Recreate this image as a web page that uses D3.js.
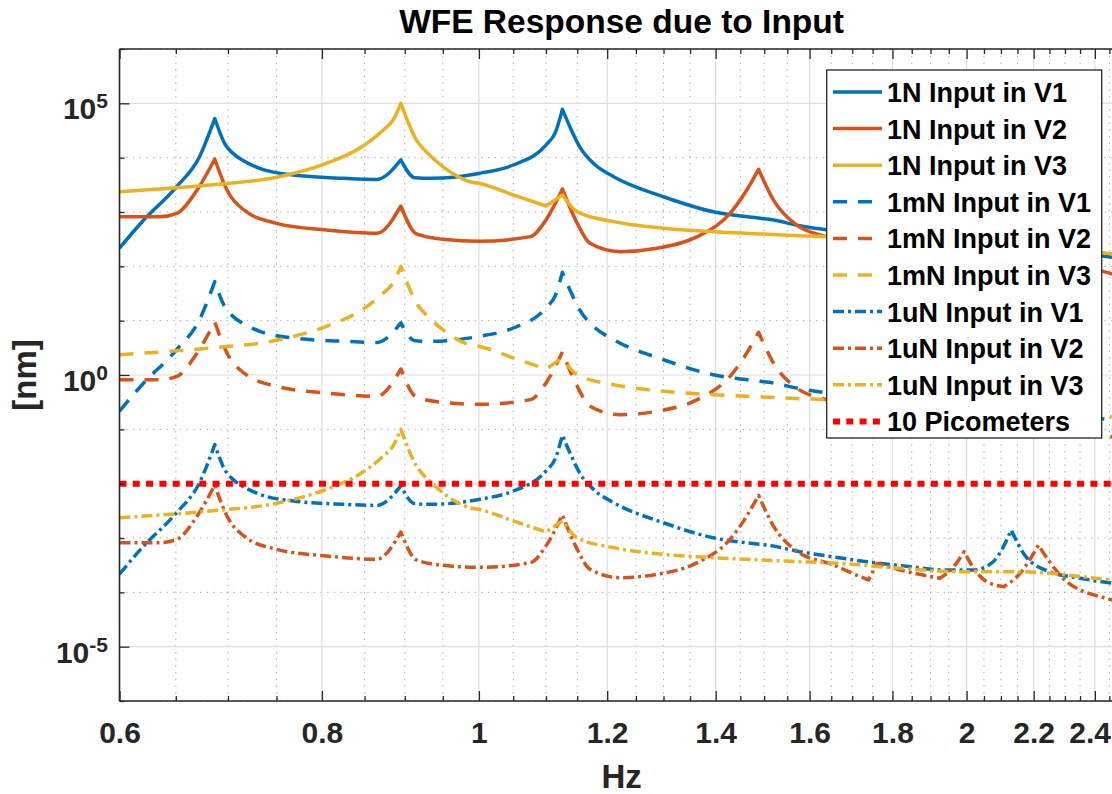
<!DOCTYPE html>
<html>
<head>
<meta charset="utf-8">
<script src="https://cdn.jsdelivr.net/npm/d3@7"></script>
<style>
  html, body { margin: 0; padding: 0; background: #ffffff; }
  svg { display: block; }
  text { font-family: "Liberation Sans", Arial, Helvetica, sans-serif; font-weight: bold; }
</style>
</head>
<body>
<svg id="chart" width="1112" height="794"></svg>
<script>
// Frequency samples (Hz) for each actuator response
const freqV1 = [0.600, 0.620, 0.650, 0.672, 0.687, 0.697, 0.705, 0.716, 0.733, 0.768,
                0.825, 0.865, 0.895, 0.913, 0.935, 1.000, 1.050, 1.100, 1.115, 1.126,
                1.138, 1.154, 1.180, 1.211, 1.300, 1.395, 1.492, 1.510, 1.578, 1.640,
                1.736, 1.850, 1.936, 2.020, 2.077, 2.131, 2.176, 2.250, 2.350, 2.460, 2.500];
const freqV2 = [0.600, 0.635, 0.651, 0.670, 0.687, 0.699, 0.716, 0.750, 0.805, 0.865,
                0.895, 0.915, 0.950, 1.000, 1.076, 1.100, 1.126, 1.150, 1.171, 1.222,
                1.288, 1.364, 1.429, 1.463, 1.488, 1.520, 1.571, 1.656, 1.710, 1.740,
                1.761, 1.820, 1.925, 1.960, 1.993, 2.020, 2.058, 2.109, 2.158, 2.215,
                2.250, 2.306, 2.460, 2.500];
const freqV3 = [0.600, 0.682, 0.750, 0.805, 0.844, 0.873, 0.885, 0.895, 0.915, 0.930,
                0.950, 0.987, 1.000, 1.050, 1.100, 1.126, 1.150, 1.211, 1.300, 1.395,
                1.498, 1.578, 1.640, 1.820, 1.970, 2.150, 2.460, 2.500];

// WFE response (nm) for a 1 N input
const wfe1N_V1 = [217, 676, 2820, 10200, 52500, 17800, 12000, 8710, 6310, 4790,
                  4170, 3980, 9120, 4270, 4170, 5130, 7330, 17100, 29500, 77600,
                  37200, 15800, 7330, 4470, 1910, 1010, 766, 733, 560, 467,
                  366, 295, 258, 258, 366, 1400, 453, 240, 182, 147, 138];
const wfe1N_V2 = [818, 818, 946, 2540, 9440, 2540, 1090, 619, 467, 406,
                  1290, 394, 314, 288, 352, 713, 2650, 619, 265, 186,
                  215, 352, 946, 2510, 6110, 1660, 575, 318, 208, 169,
                  342, 258, 181, 277, 560, 277, 157, 127, 224, 743,
                  366, 157, 72.3, 63.1];
const wfe1N_V3 = [2370, 3140, 4350, 7870, 14900, 32300, 49000, 100000, 21100, 12000,
                  6820, 3610, 3370, 2060, 1290, 2060, 1010, 664, 501, 434,
                  394, 366, 352, 277, 240, 240, 169, 162];

// WFE response (nm) for a 1 mN input
const wfe1mN_V1 = [0.217, 0.676, 2.82, 10.2, 52.5, 17.8, 12.0, 8.71, 6.31, 4.79,
                   4.17, 3.98, 9.12, 4.27, 4.17, 5.13, 7.33, 17.1, 29.5, 77.6,
                   37.2, 15.8, 7.33, 4.47, 1.91, 1.01, 0.766, 0.733, 0.560, 0.467,
                   0.366, 0.295, 0.258, 0.258, 0.366, 1.40, 0.453, 0.240, 0.182, 0.147, 0.138];
const wfe1mN_V2 = [0.818, 0.818, 0.946, 2.54, 9.44, 2.54, 1.09, 0.619, 0.467, 0.406,
                   1.29, 0.394, 0.314, 0.288, 0.352, 0.713, 2.65, 0.619, 0.265, 0.186,
                   0.215, 0.352, 0.946, 2.51, 6.11, 1.66, 0.575, 0.318, 0.208, 0.169,
                   0.342, 0.258, 0.181, 0.277, 0.560, 0.277, 0.157, 0.127, 0.224, 0.743,
                   0.366, 0.157, 0.0723, 0.0631];
const wfe1mN_V3 = [2.37, 3.14, 4.35, 7.87, 14.9, 32.3, 49.0, 100, 21.1, 12.0,
                   6.82, 3.61, 3.37, 2.06, 1.29, 2.06, 1.01, 0.664, 0.501, 0.434,
                   0.394, 0.366, 0.352, 0.277, 0.240, 0.240, 0.169, 0.162];

// WFE response (nm) for a 1 uN input
const wfe1uN_V1 = [2.17e-4, 6.76e-4, 2.82e-3, 1.02e-2, 5.25e-2, 1.78e-2, 1.20e-2, 8.71e-3, 6.31e-3, 4.79e-3,
                   4.17e-3, 3.98e-3, 9.12e-3, 4.27e-3, 4.17e-3, 5.13e-3, 7.33e-3, 1.71e-2, 2.95e-2, 7.76e-2,
                   3.72e-2, 1.58e-2, 7.33e-3, 4.47e-3, 1.91e-3, 1.01e-3, 7.66e-4, 7.33e-4, 5.60e-4, 4.67e-4,
                   3.66e-4, 2.95e-4, 2.58e-4, 2.58e-4, 3.66e-4, 1.40e-3, 4.53e-4, 2.40e-4, 1.82e-4, 1.47e-4, 1.38e-4];
const wfe1uN_V2 = [8.18e-4, 8.18e-4, 9.46e-4, 2.54e-3, 9.44e-3, 2.54e-3, 1.09e-3, 6.19e-4, 4.67e-4, 4.06e-4,
                   1.29e-3, 3.94e-4, 3.14e-4, 2.88e-4, 3.52e-4, 7.13e-4, 2.65e-3, 6.19e-4, 2.65e-4, 1.86e-4,
                   2.15e-4, 3.52e-4, 9.46e-4, 2.51e-3, 6.11e-3, 1.66e-3, 5.75e-4, 3.18e-4, 2.08e-4, 1.69e-4,
                   3.42e-4, 2.58e-4, 1.81e-4, 2.77e-4, 5.60e-4, 2.77e-4, 1.57e-4, 1.27e-4, 2.24e-4, 7.43e-4,
                   3.66e-4, 1.57e-4, 7.23e-5, 6.31e-5];
const wfe1uN_V3 = [2.37e-3, 3.14e-3, 4.35e-3, 7.87e-3, 1.49e-2, 3.23e-2, 4.90e-2, 1.00e-1, 2.11e-2, 1.20e-2,
                   6.82e-3, 3.61e-3, 3.37e-3, 2.06e-3, 1.29e-3, 2.06e-3, 1.01e-3, 6.64e-4, 5.01e-4, 4.34e-4,
                   3.94e-4, 3.66e-4, 3.52e-4, 2.77e-4, 2.40e-4, 2.40e-4, 1.69e-4, 1.62e-4];

// 10 picometer requirement line (nm)
const thresholdFreq = [0.6, 2.5];
const thresholdWfe = [0.01, 0.01];

// Axis ticks
const xMajorTicks = [0.6, 0.8, 1.0, 1.2, 1.4, 1.6, 1.8, 2.0, 2.2, 2.4];
const xTickLabels = ["0.6", "0.8", "1", "1.2", "1.4", "1.6", "1.8", "2", "2.2", "2.4"];
const xMinorTicks = [0.65, 0.7, 0.75, 0.85, 0.9, 0.95, 1.05, 1.1, 1.15, 1.25, 1.3, 1.35,
                     1.45, 1.5, 1.55, 1.65, 1.7, 1.75, 1.85, 1.9, 1.95, 2.05, 2.1, 2.15,
                     2.25, 2.3, 2.35, 2.45];
const yMajorTicks = [1e-5, 1e0, 1e5];
const yTickExponents = ["-5", "0", "5"];
const yMinorTicks = [1e-6, 1e-4, 1e-3, 1e-2, 1e-1, 1e1, 1e2, 1e3, 1e4, 1e6];

const seriesNames = ["1N Input in V1", "1N Input in V2", "1N Input in V3",
                     "1mN Input in V1", "1mN Input in V2", "1mN Input in V3",
                     "1uN Input in V1", "1uN Input in V2", "1uN Input in V3",
                     "10 Picometers"];

const BLUE = "#0072BD", ORANGE = "#D95319", YELLOW = "#EDB120", RED = "#FF0000";
const DASHED = "14,11", DASHDOT = "11,4,3,4", DOTTED = "7,6.3";

const series = [
  { name: seriesNames[0], f: freqV1, v: wfe1N_V1, color: BLUE,   dash: null,    width: 3.5 },
  { name: seriesNames[1], f: freqV2, v: wfe1N_V2, color: ORANGE, dash: null,    width: 3.5 },
  { name: seriesNames[2], f: freqV3, v: wfe1N_V3, color: YELLOW, dash: null,    width: 3.5 },
  { name: seriesNames[3], f: freqV1, v: wfe1mN_V1, color: BLUE,   dash: DASHED, width: 3.5 },
  { name: seriesNames[4], f: freqV2, v: wfe1mN_V2, color: ORANGE, dash: DASHED, width: 3.5 },
  { name: seriesNames[5], f: freqV3, v: wfe1mN_V3, color: YELLOW, dash: DASHED, width: 3.5 },
  { name: seriesNames[6], f: freqV1, v: wfe1uN_V1, color: BLUE,   dash: DASHDOT, width: 3.5 },
  { name: seriesNames[7], f: freqV2, v: wfe1uN_V2, color: ORANGE, dash: DASHDOT, width: 3.5 },
  { name: seriesNames[8], f: freqV3, v: wfe1uN_V3, color: YELLOW, dash: DASHDOT, width: 3.5 },
  { name: seriesNames[9], f: thresholdFreq, v: thresholdWfe, color: RED, dash: DOTTED, width: 6 }
];

const svg = d3.select("#chart");
const W = 1112, H = 794;
const plot = { left: 119.5, right: 1123.6, top: 49, bottom: 701 };

svg.append("rect").attr("width", W).attr("height", H).attr("fill", "#ffffff");

const x = d3.scaleLog().domain([0.6, 2.5]).range([plot.left, plot.right]);
const y = d3.scaleLog().domain([1e-6, 1e6]).range([plot.bottom, plot.top]);

const AXIS = "#262626";

// Grid lines
const grid = svg.append("g");
grid.selectAll(".xminor").data(xMinorTicks).join("line")
  .attr("x1", d => x(d)).attr("x2", d => x(d))
  .attr("y1", plot.top).attr("y2", plot.bottom)
  .attr("stroke", "#a9a9a9").attr("stroke-width", 1).attr("stroke-dasharray", "1.4,5.3");
grid.selectAll(".yminor").data(yMinorTicks).join("line")
  .attr("x1", plot.left).attr("x2", plot.right)
  .attr("y1", d => y(d)).attr("y2", d => y(d))
  .attr("stroke", "#a9a9a9").attr("stroke-width", 1).attr("stroke-dasharray", "1.4,5.3");
grid.selectAll(".xmajor").data(xMajorTicks).join("line")
  .attr("x1", d => x(d)).attr("x2", d => x(d))
  .attr("y1", plot.top).attr("y2", plot.bottom)
  .attr("stroke", "#dedede").attr("stroke-width", 1.2);
grid.selectAll(".ymajor").data(yMajorTicks).join("line")
  .attr("x1", plot.left).attr("x2", plot.right)
  .attr("y1", d => y(d)).attr("y2", d => y(d))
  .attr("stroke", "#dedede").attr("stroke-width", 1.2);

// Curves: smooth monotone pieces, kept pointed at sharp resonance peaks and notches
svg.append("clipPath").attr("id", "plotClip").append("rect")
  .attr("x", plot.left).attr("y", plot.top)
  .attr("width", plot.right - plot.left).attr("height", plot.bottom - plot.top);

const smooth = d3.line().x(d => x(d[0])).y(d => y(d[1])).curve(d3.curveMonotoneX);

function responsePath(pts) {
  const breaks = [0];
  for (let i = 1; i < pts.length - 1; i++) {
    const r1 = pts[i][1] / pts[i - 1][1], r2 = pts[i][1] / pts[i + 1][1];
    const peak = r1 > 1.2 && r2 > 1.2;
    const notch = r1 < 1 / 1.2 && r2 < 1 / 1.2;
    if (peak || notch) breaks.push(i);
  }
  breaks.push(pts.length - 1);
  let d = "";
  for (let k = 0; k < breaks.length - 1; k++) {
    const seg = smooth(pts.slice(breaks[k], breaks[k + 1] + 1));
    d += k === 0 ? seg : seg.replace(/^M[^A-Za-z]*/, "");
  }
  return d;
}

const curves = svg.append("g").attr("clip-path", "url(#plotClip)");
series.forEach(s => {
  const pts = s.f.map((f, i) => [f, s.v[i]]);
  curves.append("path")
    .attr("d", responsePath(pts))
    .attr("fill", "none")
    .attr("stroke", s.color)
    .attr("stroke-width", s.width)
    .attr("stroke-linejoin", "round")
    .attr("stroke-dasharray", s.dash);
});

// Axes with inward ticks
const axisStyle = g => {
  g.select(".domain").remove();
  g.selectAll(".tick line").attr("stroke", AXIS).attr("stroke-width", 1.3);
  g.selectAll(".tick text").attr("fill", AXIS).style("font-size", "30px")
    .style("font-family", '"Liberation Sans", Arial, Helvetica, sans-serif').style("font-weight", "bold");
};

const xAxisG = svg.append("g").attr("transform", `translate(0,${plot.bottom})`)
  .call(d3.axisBottom(x).tickValues(xMajorTicks).tickSize(-10).tickPadding(21)
    .tickFormat((d, i) => xTickLabels[i]))
  .call(axisStyle);
// keep the last label inside the canvas
xAxisG.selectAll(".tick text").each(function () {
  const t = d3.select(this);
  const tick = this.parentNode.transform.baseVal.consolidate().matrix.e;
  const w = this.getComputedTextLength();
  if (tick + w / 2 > W - 1) t.attr("x", (W - 1) - w / 2 - tick);
});
svg.append("g").attr("transform", `translate(0,${plot.bottom})`)
  .call(d3.axisBottom(x).tickValues(xMinorTicks).tickSize(-5).tickFormat(""))
  .call(axisStyle);
svg.append("g").attr("transform", `translate(0,${plot.top})`)
  .call(d3.axisTop(x).tickValues(xMajorTicks).tickSize(-10).tickFormat(""))
  .call(axisStyle);
svg.append("g").attr("transform", `translate(0,${plot.top})`)
  .call(d3.axisTop(x).tickValues(xMinorTicks).tickSize(-5).tickFormat(""))
  .call(axisStyle);
svg.append("g").attr("transform", `translate(${plot.left},0)`)
  .call(d3.axisLeft(y).tickValues(yMajorTicks).tickSize(-10).tickFormat(""))
  .call(axisStyle);
svg.append("g").attr("transform", `translate(${plot.left},0)`)
  .call(d3.axisLeft(y).tickValues(yMinorTicks).tickSize(-5).tickFormat(""))
  .call(axisStyle);

// Axis frame (left, bottom, top)
const frame = svg.append("g").attr("stroke", AXIS).attr("stroke-width", 1.6);
frame.append("line").attr("x1", plot.left).attr("x2", plot.left).attr("y1", plot.top).attr("y2", plot.bottom);
frame.append("line").attr("x1", plot.left).attr("x2", plot.right).attr("y1", plot.bottom).attr("y2", plot.bottom);
frame.append("line").attr("x1", plot.left).attr("x2", plot.right).attr("y1", plot.top).attr("y2", plot.top);

// Y tick labels as powers of ten
const yLabels = svg.append("g");
yMajorTicks.forEach((t, i) => {
  const lbl = yLabels.append("text")
    .attr("x", 108).attr("y", y(t) + 16)
    .attr("text-anchor", "end").attr("fill", AXIS)
    .style("font-size", "30px");
  lbl.append("tspan").text("10");
  lbl.append("tspan").attr("dy", -11).style("font-size", "21px").text(yTickExponents[i]);
});

// Title and axis labels
svg.append("text").attr("x", (plot.left + plot.right) / 2).attr("y", 33)
  .attr("text-anchor", "middle").attr("fill", "#000").style("font-size", "33.5px")
  .text("WFE Response due to Input");
svg.append("text").attr("x", (plot.left + plot.right) / 2).attr("y", 788)
  .attr("text-anchor", "middle").attr("fill", AXIS).style("font-size", "33px")
  .text("Hz");
svg.append("text")
  .attr("transform", `translate(36,${(plot.top + plot.bottom) / 2}) rotate(-90)`)
  .attr("text-anchor", "middle").attr("fill", AXIS).style("font-size", "33px")
  .text("[nm]");

// Legend
const legend = svg.append("g");
legend.append("rect")
  .attr("x", 826.7).attr("y", 70).attr("width", 275).attr("height", 368)
  .attr("fill", "#ffffff").attr("stroke", AXIS).attr("stroke-width", 1.3);
series.forEach((s, i) => {
  const ly = 92 + i * 36.6;
  legend.append("line")
    .attr("x1", 833).attr("x2", 882).attr("y1", ly).attr("y2", ly)
    .attr("stroke", s.color).attr("stroke-width", s.width)
    .attr("stroke-dasharray", s.dash);
  legend.append("text")
    .attr("x", 887).attr("y", ly + 10)
    .attr("fill", "#000").style("font-size", "27px")
    .text(s.name);
});
</script>
</body>
</html>
